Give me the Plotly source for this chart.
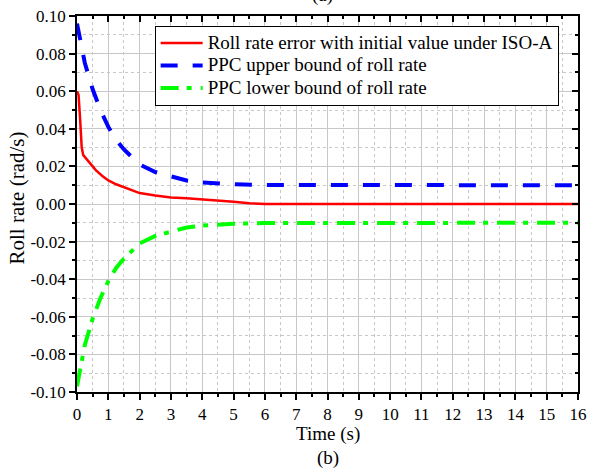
import plotly.graph_objects as go

# Roll-rate tracking error and prescribed performance bounds
t_err = [0, 0.05, 0.1, 0.15, 0.2, 0.4, 0.6, 0.8, 1.0, 1.25, 1.5, 2.0, 2.5, 3.0,
         3.5, 4.0, 4.5, 5.0, 5.5, 6.0, 8.0, 10.0, 12.0, 14.0, 16.0]
roll_err = [0.060, 0.058, 0.045, 0.030, 0.026, 0.022, 0.018, 0.015, 0.0125,
            0.0105, 0.009, 0.0058, 0.0045, 0.0035, 0.003, 0.0025, 0.0018,
            0.0012, 0.0004, 0.0, 0.0, 0.0, 0.0, 0.0, 0.0]

t_bound = [0, 0.25, 0.5, 0.75, 1.0, 1.25, 1.5, 2.0, 2.5, 3.0, 3.5, 4.0, 5.0,
           6.0, 8.0, 10.0, 12.0, 14.0, 16.0]
upper_bound = [0.096, 0.075, 0.061, 0.050, 0.041, 0.034, 0.029, 0.021, 0.017,
               0.0145, 0.0125, 0.0115, 0.0105, 0.0101, 0.010, 0.010, 0.010,
               0.010, 0.010]
lower_bound = [-0.097, -0.075, -0.061, -0.050, -0.041, -0.034, -0.029, -0.021,
               -0.017, -0.0145, -0.0125, -0.0115, -0.0105, -0.0101, -0.010,
               -0.010, -0.010, -0.010, -0.010]

series_names = ["Roll rate error with initial value under ISO-A",
                "PPC upper bound of roll rate",
                "PPC lower bound of roll rate"]

x_ticks = list(range(0, 17))
x_labels = [str(v) for v in x_ticks]
y_ticks = [-0.10, -0.08, -0.06, -0.04, -0.02, 0.00, 0.02, 0.04, 0.06, 0.08, 0.10]
y_labels = ["-0.10", "-0.08", "-0.06", "-0.04", "-0.02", "0.00",
            "0.02", "0.04", "0.06", "0.08", "0.10"]

FONT = "Liberation Serif"


def legend_label(text):
    # larger glyphs than the legend row pitch, keeps the rows compact
    return '<span style="font-size:19px">' + text + "</span>"


fig = go.Figure()
fig.add_trace(go.Scatter(x=t_err, y=roll_err, mode="lines",
                         name=legend_label(series_names[0]),
                         line=dict(color="#FF0000", width=2.5)))
fig.add_trace(go.Scatter(x=t_bound, y=upper_bound, mode="lines",
                         name=legend_label(series_names[1]),
                         line=dict(color="#0000FF", width=4, dash="17px,15px")))
fig.add_trace(go.Scatter(x=t_bound, y=lower_bound, mode="lines",
                         name=legend_label(series_names[2]),
                         line=dict(color="#00FF00", width=4,
                                   dash="18px,8px,5px,9px")))
# empty trace that carries the mirrored top/right axes
fig.add_trace(go.Scatter(x=[None], y=[None], xaxis="x2", yaxis="y2",
                         showlegend=False, hoverinfo="skip"))

grid = "#c8c8c8"
fig.update_layout(
    width=590, height=469,
    margin=dict(l=77, r=12, t=16, b=77, autoexpand=False),
    paper_bgcolor="white", plot_bgcolor="white",
    font=dict(family=FONT, size=17, color="black"),
    showlegend=True,
    legend=dict(x=0.155, y=0.974, xanchor="left", yanchor="top",
                bgcolor="white", bordercolor="black", borderwidth=1,
                font=dict(family=FONT, size=15), tracegroupgap=0,
                itemwidth=42),
    xaxis=dict(range=[0, 16], tickvals=x_ticks, ticktext=x_labels,
               automargin=False,
               showline=True, linecolor="black", linewidth=1.5,
               ticks="outside", ticklen=6, tickwidth=1.5, tickcolor="black",
               showgrid=True, gridcolor=grid, gridwidth=1, zeroline=False,
               minor=dict(dtick=0.5, ticks="outside", ticklen=3,
                          tickcolor="black", showgrid=True, gridcolor=grid,
                          griddash="dot", gridwidth=1),
               tickfont=dict(family=FONT, size=17)),
    yaxis=dict(range=[-0.10, 0.10], tickvals=y_ticks, ticktext=y_labels,
               automargin=False,
               showline=True, linecolor="black", linewidth=1.5,
               ticks="outside", ticklen=6, tickwidth=1.5, tickcolor="black",
               showgrid=True, gridcolor=grid, gridwidth=1, zeroline=False,
               minor=dict(dtick=0.01, ticks="outside", ticklen=3,
                          tickcolor="black", showgrid=True, gridcolor=grid,
                          griddash="dot", gridwidth=1),
               tickfont=dict(family=FONT, size=17)),
    xaxis2=dict(range=[0, 16], overlaying="x", side="top", anchor="y",
                automargin=False,
                showline=True, linecolor="black", linewidth=1.5,
                tickvals=x_ticks, ticks="inside", ticklen=6, tickwidth=1.5,
                tickcolor="black", showticklabels=False, showgrid=False,
                zeroline=False,
                minor=dict(dtick=0.5, ticks="inside", ticklen=3,
                           tickcolor="black", showgrid=False)),
    yaxis2=dict(range=[-0.10, 0.10], overlaying="y", side="right", anchor="x",
                automargin=False,
                showline=True, linecolor="black", linewidth=1.5,
                tickvals=y_ticks, ticks="inside", ticklen=6, tickwidth=1.5,
                tickcolor="black", showticklabels=False, showgrid=False,
                zeroline=False,
                minor=dict(dtick=0.01, ticks="inside", ticklen=3,
                           tickcolor="black", showgrid=False)),
    annotations=[
        dict(text="Time (s)", x=0.50, y=-0.113, xref="paper", yref="paper",
             xanchor="center", yanchor="middle", showarrow=False,
             font=dict(family=FONT, size=19)),
        dict(text="(b)", x=0.501, y=-0.175, xref="paper", yref="paper",
             xanchor="center", yanchor="middle", showarrow=False,
             font=dict(family=FONT, size=19)),
        dict(text="(a)", x=0.491, y=1.057, xref="paper", yref="paper",
             xanchor="center", yanchor="middle", showarrow=False,
             font=dict(family=FONT, size=19)),
        dict(text="Roll rate (rad/s)", x=-0.12, y=0.517, xref="paper",
             yref="paper", xanchor="center", yanchor="middle",
             textangle=-90, showarrow=False, font=dict(family=FONT, size=21)),
    ],
)

fig.write_html("out.html")
